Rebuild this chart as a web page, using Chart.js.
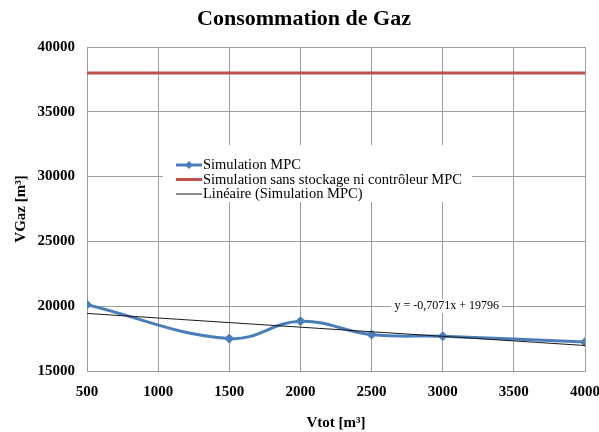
<!DOCTYPE html>
<html>
<head>
<meta charset="utf-8">
<title>Consommation de Gaz</title>
<script src="https://cdn.jsdelivr.net/npm/chart.js@4/dist/chart.umd.min.js"></script>
<style>
  html, body { margin: 0; padding: 0; background: #fff; }
  #wrap { width: 599px; height: 432px; position: relative; }
</style>
</head>
<body>
<div id="wrap"><canvas id="chart"></canvas></div>
<script>
// volumes de stockage testés (m3) et consommation de gaz obtenue
const vtot = [500, 1500, 2000, 2500, 3000, 4000];
const simulationMPC = [20120, 17500, 18840, 17810, 17680, 17230];
const sansStockage = [38000, 38000, 38000, 38000, 38000, 38000];

// courbe de tendance linéaire (Simulation MPC)
const trendSlope = -0.7071;
const trendIntercept = 19796;
const trendX = [500, 4000];
const trendText = 'y = -0,7071x + 19796';

const xTicks = [500, 1000, 1500, 2000, 2500, 3000, 3500, 4000];
const yTicks = [15000, 20000, 25000, 30000, 35000, 40000];

const titleText = 'Consommation de Gaz';
const legendLabels = ['Simulation MPC', 'Simulation sans stockage ni contrôleur MPC', 'Linéaire (Simulation MPC)'];

const BLUE = '#4a7ebb';
const RED = '#c0504d';
const GRID = '#9d9d9d';
const SERIF = '"Liberation Serif", "Times New Roman", serif';

const pts = (xs, ys) => xs.map((x, i) => ({ x: x, y: ys[i] }));

const data = {
  datasets: [
    {
      label: legendLabels[0],
      data: pts(vtot, simulationMPC),
      borderColor: BLUE,
      backgroundColor: BLUE,
      borderWidth: 3,
      tension: 0.4,
      pointStyle: 'rectRot',
      pointRadius: 4.5,
      pointBorderWidth: 1,
      order: 1
    },
    {
      label: legendLabels[1],
      data: pts(vtot, sansStockage),
      borderColor: RED,
      backgroundColor: RED,
      borderWidth: 3,
      pointRadius: 0,
      order: 2
    },
    {
      label: legendLabels[2],
      data: trendX.map(x => ({ x: x, y: trendSlope * x + trendIntercept })),
      borderColor: '#1a1a1a',
      borderWidth: 1,
      pointRadius: 0,
      order: 0
    }
  ]
};

// titre, légende encadrée et équation de la tendance
const overlay = {
  id: 'overlay',
  afterDraw(chart) {
    const ctx = chart.ctx;
    const area = chart.chartArea;
    const sx = chart.scales.x, sy = chart.scales.y;
    ctx.save();

    ctx.fillStyle = '#000';
    ctx.font = 'bold 22px ' + SERIF;
    ctx.textAlign = 'center';
    ctx.textBaseline = 'middle';
    ctx.fillText(titleText, 304, 19);

    // légende
    const lx = area.left + 76, ly = area.top + 98;
    ctx.fillStyle = '#fff';
    ctx.fillRect(lx, ly, 309, 57);
    ctx.font = '14.5px ' + SERIF;
    ctx.textAlign = 'left';
    const rows = [
      { color: BLUE, width: 3, marker: true },
      { color: RED, width: 3, marker: false },
      { color: '#1a1a1a', width: 1, marker: false }
    ];
    rows.forEach((r, i) => {
      const y = ly + 20 + i * 14.5;
      ctx.strokeStyle = r.color;
      ctx.lineWidth = r.width;
      ctx.beginPath();
      ctx.moveTo(lx + 13, y);
      ctx.lineTo(lx + 39, y);
      ctx.stroke();
      if (r.marker) {
        ctx.fillStyle = r.color;
        ctx.beginPath();
        ctx.moveTo(lx + 26, y - 4);
        ctx.lineTo(lx + 30, y);
        ctx.lineTo(lx + 26, y + 4);
        ctx.lineTo(lx + 22, y);
        ctx.closePath();
        ctx.fill();
      }
      ctx.fillStyle = '#000';
      ctx.fillText(legendLabels[i], lx + 40, y + 0.5);
    });

    // équation
    ctx.font = '12px ' + SERIF;
    const tx = sx.getPixelForValue(3000) + 4, ty = sy.getPixelForValue(20000);
    const tw = ctx.measureText(trendText).width;
    ctx.fillStyle = '#fff';
    ctx.fillRect(tx - tw / 2 - 3, ty - 7, tw + 6, 14);
    ctx.fillStyle = '#000';
    ctx.textAlign = 'center';
    ctx.fillText(trendText, tx, ty);

    ctx.restore();
  }
};

const config = {
  type: 'line',
  data: data,
  options: {
    responsive: true,
    maintainAspectRatio: false,
    animation: false,
    layout: { padding: { top: 47, right: 0, bottom: 0, left: 0 } },
    plugins: {
      legend: { display: false },
      tooltip: { enabled: false },
      title: { display: false }
    },
    scales: {
      x: {
        type: 'linear',
        min: xTicks[0],
        max: xTicks[xTicks.length - 1],
        afterBuildTicks: s => { s.ticks = xTicks.map(v => ({ value: v })); },
        afterFit: s => { s.height = 61; s.paddingRight = 14; s.paddingLeft = 0; },
        grid: { color: GRID, drawTicks: false },
        border: { color: GRID },
        ticks: {
          color: '#000',
          padding: 12,
          callback: v => String(v),
          font: { family: SERIF, size: 15, weight: 'bold' }
        },
        title: {
          display: true,
          text: 'Vtot [m³]',
          color: '#000',
          padding: { top: 2, bottom: 0 },
          font: { family: SERIF, size: 15, weight: 'bold' }
        }
      },
      y: {
        min: yTicks[0],
        max: yTicks[yTicks.length - 1],
        afterBuildTicks: s => { s.ticks = yTicks.map(v => ({ value: v })); },
        afterFit: s => { s.width = 87; },
        grid: { color: GRID, drawTicks: false },
        border: { color: GRID },
        ticks: {
          color: '#000',
          padding: 12,
          callback: v => String(v),
          font: { family: SERIF, size: 15, weight: 'bold' }
        },
        title: {
          display: true,
          text: 'VGaz [m³]',
          color: '#000',
          padding: { top: 12, bottom: 0 },
          font: { family: SERIF, size: 15, weight: 'bold' }
        }
      }
    }
  },
  plugins: [overlay]
};

const chart = new Chart(document.getElementById('chart'), config);
</script>
</body>
</html>
